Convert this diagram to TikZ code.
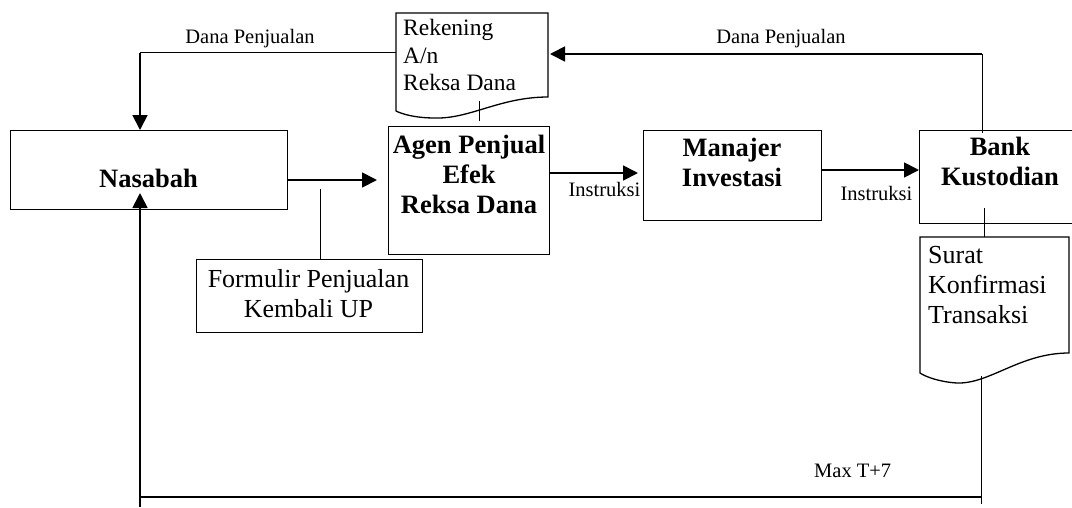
\documentclass[tikz,border=0pt]{standalone}
\usepackage{fontspec}
\setmainfont{Liberation Serif}
\usetikzlibrary{arrows.meta,calc}
\begin{document}
\begin{tikzpicture}[x=1pt,y=-1pt,
  box/.style={draw, line width=1.3pt, inner sep=0pt, anchor=north west},
  ghost/.style={inner sep=0pt, anchor=north west},
  doc/.style={line width=1.3pt},
  btxt/.style={font=\fontsize{26.5}{30}\selectfont\bfseries, anchor=base, inner sep=0pt},
  ntxt/.style={font=\fontsize{26}{30}\selectfont, anchor=base, inner sep=0pt},
  rtxt/.style={font=\fontsize{23.5}{27.5}\selectfont, anchor=base west, inner sep=0pt},
  stxt/.style={font=\fontsize{20.5}{22}\selectfont, anchor=base, inner sep=0pt},
  flow/.style={line width=1.8pt},
  arr/.style={line width=1.8pt, -{Triangle[length=15pt,width=15pt]}},
  tickline/.style={line width=1pt}
]
\useasboundingbox (0,0) rectangle (1072,507);

% boxes
\node[box, minimum width=277pt, minimum height=79pt] (nas) at (10,130) {};
\node[box, minimum width=161pt, minimum height=128pt] (agen) at (388,126) {};
\node[box, minimum width=178pt, minimum height=90pt] (man) at (643,130) {};
\node[box, minimum width=170pt, minimum height=93pt] (bank) at (919,130) {};
\node[box, minimum width=226pt, minimum height=73pt] (form) at (196,259) {};

% documents
\node[ghost, minimum width=152pt, minimum height=105pt] (rek) at (396,13) {};
\draw[doc] (396,13) -- (548,13) -- (548,97)
  .. controls (500,97) and (470,119) .. (435,118)
  .. controls (415,118) and (402,114) .. (396,111) -- cycle;
\node[ghost, minimum width=149pt, minimum height=146pt] (surat) at (920,237) {};
\draw[doc] (920,237) -- (1069,237) -- (1069,353)
  .. controls (1020,353) and (990,384) .. (957,383)
  .. controls (940,382) and (926,377) .. (920,373) -- cycle;

% texts
\node[btxt] (tnas) at (148.5,187) {Nasabah};
\node[btxt] (tag1) at (469,153) {Agen Penjual};
\node[btxt] (tag2) at (469,183) {Efek};
\node[btxt] (tag3) at (469,213) {Reksa Dana};
\node[btxt] (tman1) at (732,156) {Manajer};
\node[btxt] (tman2) at (732,186) {Investasi};
\node[btxt] (tbk1) at (1000,155) {Bank};
\node[btxt] (tbk2) at (1000,185) {Kustodian};
\node[ntxt] (tf1) at (308.5,287) {Formulir Penjualan};
\node[ntxt] (tf2) at (308.5,317) {Kembali UP};
\node[rtxt] (tr1) at (403,35) {Rekening};
\node[rtxt] (tr2) at (403,63) {A/n};
\node[rtxt] (tr3) at (403,90) {Reksa Dana};
\node[ntxt, anchor=base west] (ts1) at (928,263) {Surat};
\node[ntxt, anchor=base west] (ts2) at (928,293) {Konfirmasi};
\node[ntxt, anchor=base west] (ts3) at (928,323) {Transaksi};
\node[stxt] (ld1) at (250,43) {Dana Penjualan};
\node[stxt] (ld2) at (781,43) {Dana Penjualan};
\node[stxt] (li1) at (604.5,196) {Instruksi};
\node[stxt] (li2) at (876.5,200) {Instruksi};
\node[stxt, anchor=base west] (lmax) at (814,477) {Max T+7};

% coordinates
\coordinate (a1) at (377,180);
\coordinate (a2) at (638,173);
\coordinate (a3) at (919,170);
\coordinate (f1) at (320,189);
\coordinate (r1) at (479,101);
\coordinate (r2) at (479,121);
\coordinate (b1) at (984,208);
\coordinate (c1) at (982,54);
\coordinate (c0) at (982,133);
\coordinate (c3) at (550,54);
\coordinate (c2) at (140,52.5);
\coordinate (d1) at (140,497);
\coordinate (d2) at (981,497);
\coordinate (s1) at (981,376);
\coordinate (d3) at (981,504);
\coordinate (d4) at (140,507);
\coordinate (n1) at (140,193);

% connectors
\draw[arr] (nas.east |- a1) -- (a1);
\draw[arr] (agen.east |- a2) -- (a2);
\draw[arr] (man.east |- a3) -- (bank.west |- a3);
\draw[tickline] (f1) -- (f1 |- form.north);
\draw[tickline] (r1) -- (r2);
\draw[tickline] (b1) -- (b1 |- surat.north);
\draw[tickline] (c0) -- (c1);
\draw[arr] (c1) -- (c3);
\draw[flow] (rek.west |- c2) -- (c2);
\draw[arr] (c2) -- (c2 |- nas.north);
\draw[tickline] (s1) -- (d3);
\draw[flow] (d1) -- (d2);
\draw[arr] (d4) -- (n1);
\end{tikzpicture}
\end{document}
